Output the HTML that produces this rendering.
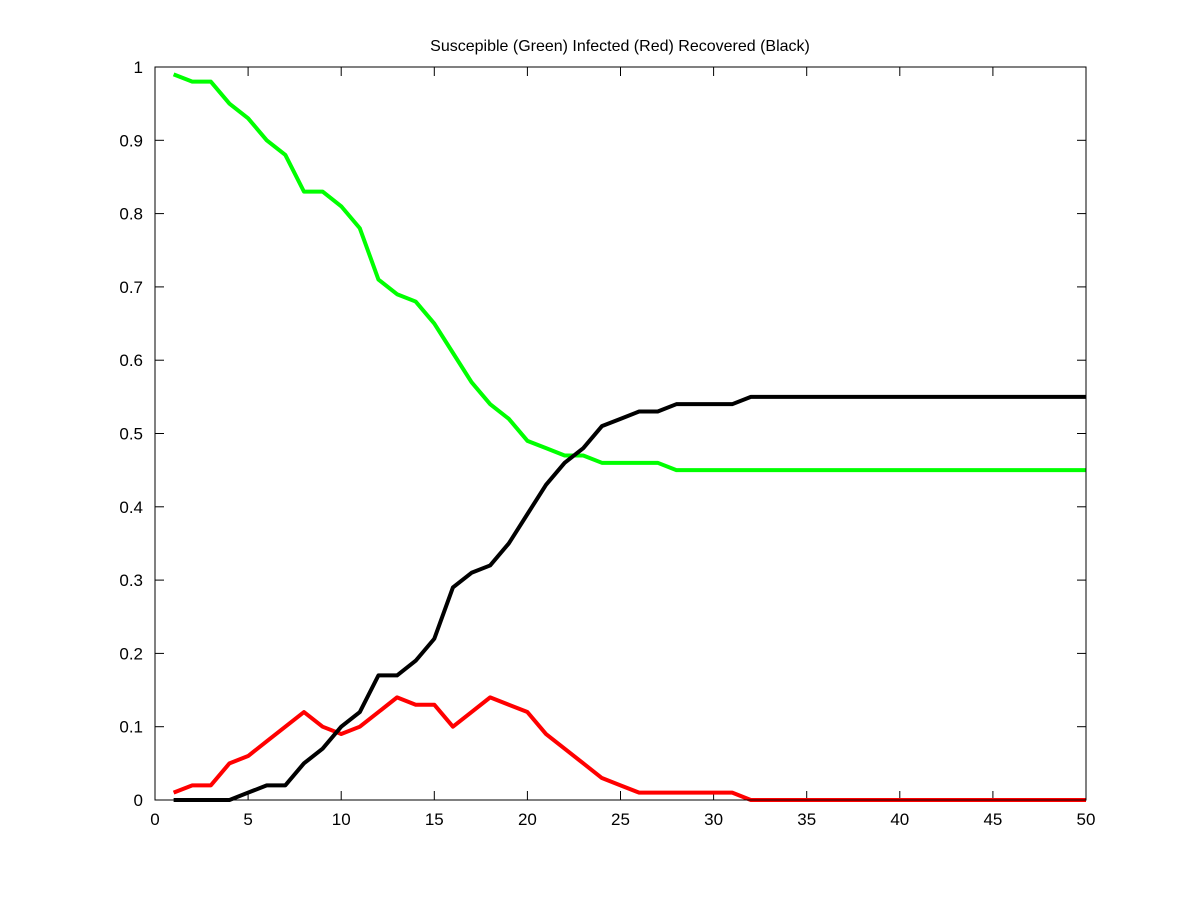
<!DOCTYPE html>
<html><head><meta charset="utf-8"><style>
html,body{margin:0;padding:0;background:#fff;}
svg text{font-family:"Liberation Sans",sans-serif;font-size:17px;fill:#000;}
svg text.title{font-size:16px;}
</style></head><body>
<svg id="chart" width="1200" height="900" xmlns="http://www.w3.org/2000/svg">
<rect x="0" y="0" width="1200" height="900" fill="#fff"/>
<g id="ticks"></g>
<g id="lines"></g>
<rect x="155" y="67" width="931" height="733" fill="none" stroke="#000" stroke-width="1"/>
<text class="title" x="620" y="51" text-anchor="middle">Suscepible (Green) Infected (Red) Recovered (Black)</text>
</svg>
<script>
const xTicks=[0,5,10,15,20,25,30,35,40,45,50];
const yTicks=[0,0.1,0.2,0.3,0.4,0.5,0.6,0.7,0.8,0.9,1];
const yTickLabels=["0","0.1","0.2","0.3","0.4","0.5","0.6","0.7","0.8","0.9","1"];
const susceptible=[0.99,0.98,0.98,0.95,0.93,0.90,0.88,0.83,0.83,0.81,0.78,0.71,0.69,0.68,0.65,0.61,0.57,0.54,0.52,0.49,0.48,0.47,0.47,0.46,0.46,0.46,0.46,0.45,0.45,0.45,0.45,0.45,0.45,0.45,0.45,0.45,0.45,0.45,0.45,0.45,0.45,0.45,0.45,0.45,0.45,0.45,0.45,0.45,0.45,0.45];
const infected=[0.01,0.02,0.02,0.05,0.06,0.08,0.10,0.12,0.10,0.09,0.10,0.12,0.14,0.13,0.13,0.10,0.12,0.14,0.13,0.12,0.09,0.07,0.05,0.03,0.02,0.01,0.01,0.01,0.01,0.01,0.01,0,0,0,0,0,0,0,0,0,0,0,0,0,0,0,0,0,0,0];
const recovered=[0,0,0,0,0.01,0.02,0.02,0.05,0.07,0.10,0.12,0.17,0.17,0.19,0.22,0.29,0.31,0.32,0.35,0.39,0.43,0.46,0.48,0.51,0.52,0.53,0.53,0.54,0.54,0.54,0.54,0.55,0.55,0.55,0.55,0.55,0.55,0.55,0.55,0.55,0.55,0.55,0.55,0.55,0.55,0.55,0.55,0.55,0.55,0.55];
const NS="http://www.w3.org/2000/svg";
const X0=155,X1=1086,Y0=800,Y1=67;
function sx(v){return X0+(v-0)/(50-0)*(X1-X0);}
function sy(v){return Y0-(v-0)/(1-0)*(Y0-Y1);}
const tg=document.getElementById('ticks');
function mk(tag,attrs,parent){const e=document.createElementNS(NS,tag);for(const k in attrs)e.setAttribute(k,attrs[k]);parent.appendChild(e);return e;}
xTicks.forEach(t=>{
  const x=sx(t);
  const a=mk('line',{x1:x,x2:x,y1:Y0,y2:Y0-9,stroke:'#000'},tg);
  
  
  const b=mk('line',{x1:x,x2:x,y1:Y1,y2:Y1+9,stroke:'#000'},tg);
  
  
  const l=mk('text',{x:x,y:Y0+25,'text-anchor':'middle'},tg);
  l.textContent=String(t);
  
  
});
yTicks.forEach((t,i)=>{
  const y=sy(t);
  const a=mk('line',{x1:X0,x2:X0+9,y1:y,y2:y,stroke:'#000'},tg);
  
  
  const b=mk('line',{x1:X1,x2:X1-9,y1:y,y2:y,stroke:'#000'},tg);
  
  
  const l=mk('text',{x:X0-12,y:y+6,'text-anchor':'end'},tg);
  l.textContent=yTickLabels[i];
  
  
});
const lg=document.getElementById('lines');
function series(arr,color,name){
  const pts=arr.map((v,i)=>sx(i+1)+','+sy(v)).join(' ');
  const p=mk('polyline',{points:pts,fill:'none',stroke:color,'stroke-width':4,'stroke-linejoin':'round'},lg);
  
  
}
series(susceptible,'#00ff00','susceptible-line');
series(infected,'#ff0000','infected-line');
series(recovered,'#000000','recovered-line');
</script>
</body></html>
